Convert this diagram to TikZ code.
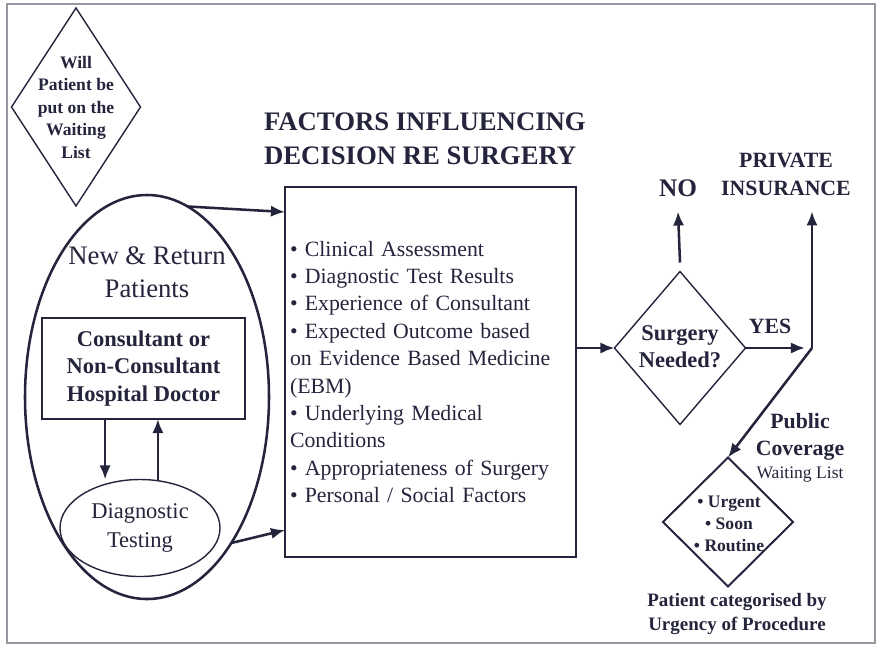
\documentclass[tikz,border=0pt]{standalone}
\usepackage{fontspec}
\setmainfont{Liberation Serif}
\usetikzlibrary{arrows.meta,positioning,shapes.geometric}

\definecolor{ink}{RGB}{36,36,60}
\definecolor{rim}{RGB}{150,150,160}

\begin{document}
\begin{tikzpicture}[x=0.25mm,y=-0.25mm,
    every node/.style={text=ink,inner sep=0pt,outer sep=0pt},
    decide/.style={draw=ink,diamond,line width=1pt,inner sep=0pt},
    lbl/.style={align=center,font=\bfseries\fontsize{15}{19}\selectfont},
    arr/.style={draw=ink,line width=1.8pt,-{Latex[length=10pt,width=8pt]}}
  ]
  \useasboundingbox (0,0) rectangle (879,646);
  %frame
  \draw[rim,line width=1pt] (7,4) rectangle (875,643);

  %waiting list question
  \node[decide,minimum width=32.25mm,minimum height=49.5mm] (wait) at (76,107) {};
  \node[lbl,font=\bfseries\fontsize{12.5}{16}\selectfont] (waittxt) at (wait) {Will\\Patient be\\put on the\\Waiting\\List};

  %patients
  \node[draw=ink,ellipse,line width=1.8pt,minimum width=61mm,minimum height=101mm] (pat) at (147,397) {};
  \node[align=center,font=\fontsize{19}{23.5}\selectfont] (pattxt) at (147,272) {New \& Return\\Patients};
  \node[draw=ink,line width=0.9pt,minimum width=50.75mm,minimum height=25.25mm,align=center,
        font=\bfseries\fontsize{16}{19.5}\selectfont] (doc) at (143.5,368.5) {Consultant or\\Non-Consultant\\Hospital Doctor};
  \node[draw=ink,ellipse,line width=1pt,minimum width=40mm,minimum height=24.25mm,align=center,
        font=\fontsize{16}{20}\selectfont] (diag) at (140,528) {Diagnostic\\Testing};

  %factors
  \node[anchor=west,align=left,font=\bfseries\fontsize{19}{24}\selectfont] (title) at (264,139) {FACTORS INFLUENCING\\DECISION RE SURGERY};
  \node[draw=ink,line width=0.9pt,minimum width=72.75mm,minimum height=92.5mm,text width=70.25mm,align=left,
        font=\fontsize{15.5}{19.5}\selectfont] (fac) at (430.5,372) {%
    \textbullet\ Clinical Assessment\\
    \textbullet\ Diagnostic Test Results\\
    \textbullet\ Experience of Consultant\\
    \textbullet\ Expected Outcome based\\
    on Evidence Based Medicine\\
    (EBM)\\
    \textbullet\ Underlying Medical\\
    Conditions\\
    \textbullet\ Appropriateness of Surgery\\
    \textbullet\ Personal / Social Factors};

  %decision
  \node[decide,minimum width=32.75mm,minimum height=38.25mm] (surg) at (680,348) {};
  \node[lbl,font=\bfseries\fontsize{16}{19}\selectfont] (surgtxt) at (680,347) {Surgery\\Needed?};
  \node[lbl,font=\bfseries\fontsize{18}{22}\selectfont] (no) at (678,188) {NO};
  \node[lbl,font=\bfseries\fontsize{15.5}{20}\selectfont] (ins) at (786,174) {PRIVATE\\INSURANCE};
  \node[lbl,font=\bfseries\fontsize{15.5}{19}\selectfont] (yes) at (770,326) {YES};
  \coordinate (fork) at (812,348);

  %waiting list
  \node[decide,line width=1.4pt,minimum width=32.5mm,minimum height=32.25mm] (urg) at (728,522) {};
  \node[lbl,font=\bfseries\fontsize{12.5}{15.5}\selectfont] (urgtxt) at (729,524) {\textbullet\ Urgent\\\textbullet\ Soon\\\textbullet\ Routine};
  \node[lbl,font=\bfseries\fontsize{15.5}{19}\selectfont] (pub) at (800,437) {Public\\Coverage};
  \node[font=\fontsize{12.5}{15}\selectfont] (wl) at (800,475) {Waiting List};
  \node[lbl,font=\bfseries\fontsize{13.5}{16.5}\selectfont] (cat) at (737,614) {Patient categorised by\\Urgency of Procedure};

  %arrows
  \draw[arr] (pat.78) -- ([yshift=-6.25mm]fac.north west);
  \draw[arr] (pat.-60) -- ([yshift=6.75mm]fac.south west);
  \draw[arr] ([xshift=-9.6mm]doc.south) -- ([xshift=-9.6mm]doc.south |- diag.north);
  \draw[arr] ([xshift=3.6mm]doc.south |- diag.north) -- ([xshift=3.6mm]doc.south);
  \draw[arr] (fac.east |- surg.west) -- (surg.west);
  \draw[arr] ([yshift=2.25mm]surg.north) -- ([yshift=-3.75mm]no.south);
  \draw[arr] (surg.east) -- ([xshift=-1.75mm]fork);
  \draw[arr] (fork) -- ([yshift=-4mm]fork |- ins.south);
  \draw[arr] (fork) -- (urg.north);
\end{tikzpicture}
\end{document}
